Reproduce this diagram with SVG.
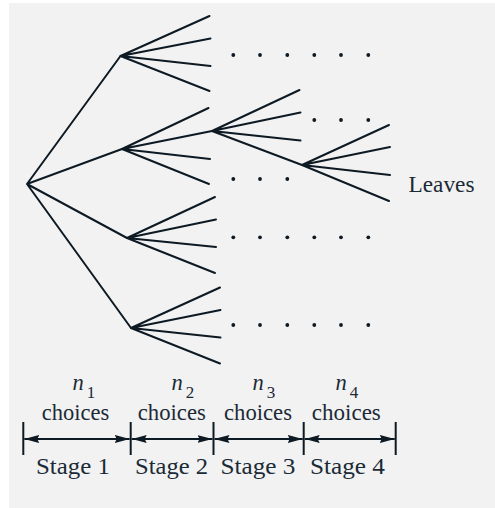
<svg xmlns="http://www.w3.org/2000/svg" width="495" height="508" viewBox="0 0 495 508">
<defs>
<style>
.e{stroke:#0d1a24;stroke-width:2;fill:none;stroke-linecap:round}
.d{fill:#0d1a24}
.b{stroke:#0d1a24;stroke-width:2;fill:none}
</style>
<marker id="ah" viewBox="0 0 15 8" refX="15" refY="4" markerWidth="15" markerHeight="8" markerUnits="userSpaceOnUse" orient="auto-start-reverse">
<path d="M0,0 L15,4 L0,8 L2,4 Z" fill="#0d1a24"/>
</marker>
</defs>
<rect x="9" y="3" width="486" height="505" fill="#f2f2f2"/>
<g id="connectors">
<path class="e" d="M27,184 L120.5,56 M27,184 L122,149 M27,184 L127,238 M27,184 L131,328"/>
<path class="e" d="M120.5,56 L209.5,16 M120.5,56 L210.5,38.5 M120.5,56 L210.5,66 M120.5,56 L209.5,91"/>
<path class="e" d="M122,149 L208.5,108 M122,149 L212,131 M122,149 L210,159 M122,149 L209,184"/>
<path class="e" d="M127,238 L215,197 M127,238 L216,219.5 M127,238 L216,247 M127,238 L215,273"/>
<path class="e" d="M131,328 L220,287.5 M131,328 L220.5,310 M131,328 L220.5,337.5 M131,328 L220,363.5"/>
<path class="e" d="M212,131 L299.5,90 M212,131 L300.5,112.5 M212,131 L300.5,140.5 M212,131 L302,165"/>
<path class="e" d="M302,165 L389,125 M302,165 L390,147 M302,165 L390,175 M302,165 L389,201"/>
</g>
<g id="dots">
<circle class="d" cx="233.3" cy="55" r="1.9"/><circle class="d" cx="260" cy="55" r="1.9"/><circle class="d" cx="287.3" cy="55" r="1.9"/><circle class="d" cx="314.3" cy="55" r="1.9"/><circle class="d" cx="341" cy="55" r="1.9"/><circle class="d" cx="368.3" cy="55" r="1.9"/>
<circle class="d" cx="314.3" cy="120" r="1.9"/><circle class="d" cx="341" cy="120" r="1.9"/><circle class="d" cx="368.3" cy="120" r="1.9"/>
<circle class="d" cx="233.3" cy="179" r="1.9"/><circle class="d" cx="260" cy="179" r="1.9"/><circle class="d" cx="287.3" cy="179" r="1.9"/>
<circle class="d" cx="233.3" cy="237.3" r="1.9"/><circle class="d" cx="260" cy="237.3" r="1.9"/><circle class="d" cx="287.3" cy="237.3" r="1.9"/><circle class="d" cx="314.3" cy="237.3" r="1.9"/><circle class="d" cx="341" cy="237.3" r="1.9"/><circle class="d" cx="368.3" cy="237.3" r="1.9"/>
<circle class="d" cx="233.3" cy="325" r="1.9"/><circle class="d" cx="260" cy="325" r="1.9"/><circle class="d" cx="287.3" cy="325" r="1.9"/><circle class="d" cx="314.3" cy="325" r="1.9"/><circle class="d" cx="341" cy="325" r="1.9"/><circle class="d" cx="368.3" cy="325" r="1.9"/>
</g>
<g font-family="'Liberation Serif', 'DejaVu Serif', serif" fill="#1a2a36" font-size="22.5">
<g id="leaves-label"><text x="408.5" y="191.5" textLength="66" lengthAdjust="spacingAndGlyphs">Leaves</text></g>
<g id="stage1">
<text x="72.5" y="389.5"><tspan font-style="italic">n</tspan><tspan font-size="17" dx="3" dy="8">1</tspan></text>
<text x="75.5" y="420" text-anchor="middle" textLength="67.5" lengthAdjust="spacingAndGlyphs">choices</text>
<text x="73" y="474" text-anchor="middle" textLength="74" lengthAdjust="spacingAndGlyphs">Stage 1</text>
</g>
<g id="stage2">
<text x="171.5" y="389.5"><tspan font-style="italic">n</tspan><tspan font-size="17" dx="3" dy="8">2</tspan></text>
<text x="171.8" y="420" text-anchor="middle" textLength="68" lengthAdjust="spacingAndGlyphs">choices</text>
<text x="171.5" y="474" text-anchor="middle" textLength="73" lengthAdjust="spacingAndGlyphs">Stage 2</text>
</g>
<g id="stage3">
<text x="252.5" y="389.5"><tspan font-style="italic">n</tspan><tspan font-size="17" dx="3" dy="8">3</tspan></text>
<text x="258" y="420" text-anchor="middle" textLength="68" lengthAdjust="spacingAndGlyphs">choices</text>
<text x="258" y="474" text-anchor="middle" textLength="75" lengthAdjust="spacingAndGlyphs">Stage 3</text>
</g>
<g id="stage4">
<text x="335.5" y="389.5"><tspan font-style="italic">n</tspan><tspan font-size="17" dx="3" dy="8">4</tspan></text>
<text x="346.3" y="420" text-anchor="middle" textLength="69" lengthAdjust="spacingAndGlyphs">choices</text>
<text x="347.5" y="474" text-anchor="middle" textLength="75" lengthAdjust="spacingAndGlyphs">Stage 4</text>
</g>
</g>
<g id="scale">
<path class="b" d="M23.3,422 V455 M130.7,422 V455 M213.5,422 V455 M303.7,422 V455 M395.7,422 V455"/>
<path class="b" marker-start="url(#ah)" marker-end="url(#ah)" d="M24.3,439 H129.7"/>
<path class="b" marker-start="url(#ah)" marker-end="url(#ah)" d="M131.7,439 H212.5"/>
<path class="b" marker-start="url(#ah)" marker-end="url(#ah)" d="M214.5,439 H302.7"/>
<path class="b" marker-start="url(#ah)" marker-end="url(#ah)" d="M304.7,439 H394.7"/>
</g>
</svg>
